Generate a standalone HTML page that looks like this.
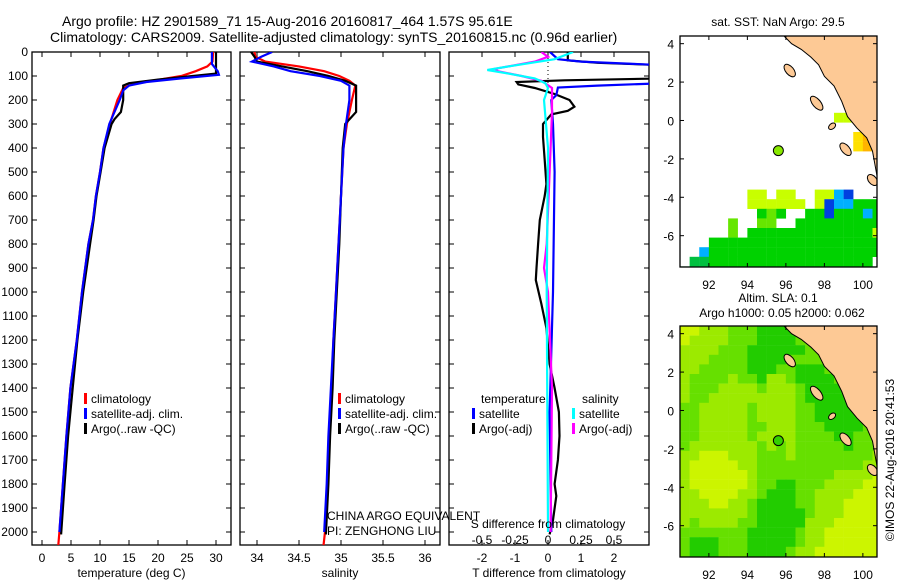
<!DOCTYPE html>
<html><head><meta charset="utf-8"><style>
html,body{margin:0;padding:0;background:#fff}
svg{display:block;font-family:"Liberation Sans",sans-serif}
</style></head><body>
<svg id="fig" width="900" height="580" viewBox="0 0 900 580" xmlns="http://www.w3.org/2000/svg">
<defs>
<clipPath id="c1"><rect x="32" y="52" width="199" height="493"/></clipPath>
<clipPath id="c2"><rect x="240" y="52" width="200" height="493"/></clipPath>
<clipPath id="c3"><rect x="449" y="52" width="200" height="493"/></clipPath>
<clipPath id="m1"><rect x="680" y="36" width="197" height="231"/></clipPath>
<clipPath id="m2"><rect x="680" y="326" width="197" height="231"/></clipPath>
</defs>
<text x="62" y="26" font-size="14">Argo profile: HZ 2901589_71 15-Aug-2016 20160817_464 1.57S 95.61E</text>
<text x="50" y="42" font-size="14">Climatology: CARS2009. Satellite-adjusted climatology: synTS_20160815.nc (0.96d earlier)</text>
<g id="g"></g>
</svg>
<script>
// ---- data ----
const tClimDepth=[0,40,60,80,100,120,135,150,200,300,400,500,600,700,800,1000,1200,1400,1600,1800,2000,2060];
const tClimVal=[29.5,29.4,28.5,26.5,24,19,15.5,14,13,11.7,10.6,10,9.3,8.8,8,6.9,6,4.9,4.2,3.6,3,2.8];
const tSatDepth=[0,50,80,95,110,125,140,160,200,300,400,500,600,700,800,1000,1200,1400,1600,1800,2000];
const tSatVal=[29.3,29.3,30.3,30.5,24,18,15,14,13.4,11.6,10.6,10,9.3,8.8,8,6.9,6,4.9,4.2,3.6,3];
const tArgoDepth=[0,90,100,115,130,140,200,250,280,300,400,500,600,700,800,1000,1200,1400,1600,1800,2010];
const tArgoVal=[30,30,26,20,15,14,14,13.6,12.5,12,10.8,10.1,9.4,8.9,8.3,7.1,6.1,5.3,4.5,3.9,3.3];
const sClimDepth=[0,20,40,60,80,100,120,140,200,300,400,600,800,1000,1200,1400,1600,1800,2000,2060];
const sClimVal=[33.97,33.98,34.1,34.5,34.8,34.98,35.1,35.17,35.13,35.07,35.03,35.0,34.97,34.94,34.91,34.89,34.86,34.84,34.81,34.79];
const sSatDepth=[0,20,40,60,80,100,120,140,200,300,400,600,800,1000,1200,1400,1600,1800,2000];
const sSatVal=[34.18,34.05,33.94,34.2,34.4,34.75,35.0,35.1,35.1,35.06,35.03,35.0,34.97,34.94,34.91,34.88,34.85,34.83,34.8];
const sArgoDepth=[0,20,40,60,80,100,120,140,250,300,400,600,800,1000,1200,1400,1600,1800,2010];
const sArgoVal=[33.93,33.97,34.0,34.3,34.6,34.85,35.05,35.18,35.18,35.05,35.02,35.0,34.98,34.95,34.92,34.9,34.87,34.85,34.82];
const dTSatDepth=[0,30,40,55,130,140,148,180,200,300,500,1000,1500,2000];
const dTSatVal=[0.06,0.3,1,3.5,3.5,1.5,0.3,0.25,0.1,0.15,0.2,0.15,0.05,0.1];
const dTArgoDepth=[0,35,45,55,110,118,125,135,150,175,200,228,245,260,300,354,450,550,600,700,800,900,950,1050,1150,1300,1400,1500,1600,1700,1800,1850,1950,2010];
const dTArgoVal=[0.6,0.6,1.5,3.5,3.5,0.5,-0.95,-0.9,-0.4,0.2,0.65,0.8,0.6,0.1,-0.15,-0.15,-0.1,-0.05,-0.1,-0.25,-0.3,-0.35,-0.37,-0.2,-0.05,0.05,0.2,0.33,0.35,0.3,0.2,0.25,0.15,0.05];
const dSSatDepth=[0,30,60,75,90,110,130,150,200,400,1000,2000];
const dSSatVal=[0.19,0.05,-0.3,-0.46,-0.3,-0.1,-0.02,0,-0.03,0,-0.01,0];
const dSArgoDepth=[0,20,40,70,80,100,120,150,250,400,800,900,1000,1400,2000];
const dSArgoVal=[-0.05,0,-0.1,-0.4,-0.38,-0.2,-0.05,0.03,0.03,0.02,-0.01,-0.03,0,0.03,0.02];
const depthTicks=[0,100,200,300,400,500,600,700,800,900,1000,1100,1200,1300,1400,1500,1600,1700,1800,1900,2000];
const tTicks=[0,5,10,15,20,25,30];
const sTicks=[34,34.5,35,35.5,36];
const dTTicks=[-2,-1,0,1,2];
const dSTicks=[-0.5,-0.25,0,0.25,0.5];
const lonTicks=[92,94,96,98,100];
const latTicks=[4,2,0,-2,-4,-6];
const argoLon=95.61, argoLat=-1.57;
// SLA grid (0.5 deg, from lon 90.5, lat 4.4 downward); 0=yellow..3=dark green
const slaRows=["001112223333222222222","011112223333222222222","111122233333322222222","111222233332222222222","112222233322333222222","122221223112333322222","122211112111233332222","122111111111233333222","221111121111223333322","221111121111223333322","221111122111222333322","221111121111222233222","211111112121222223222","110001112221222222221","100000112222222222211","100000012222222211110","100000012233222111100","110000112333221111000","111001123333221110000","111111123333321110000","121111223333311100000","222222233333211000000","233322233333211000000","233322233332110000000","333332233332110000000"];
// SST grid codes
const sstRows=[".....................",".....................",".....................",".....................",".....................",".....................",".....................",".....................","................yy...","...................o.","..................Yo.","..................Yo.",".....................",".....................",".....................",".....................",".......yy.yy..yybB...",".......yyyyyy.yBbbggg","........glg..ggBgggbg",".....l..ll..ggggggggg",".....l.gggggggggggggy","...gggggggggggggggggg","..bgggggggggggggggggg",".GGggggggggggggggggg.","GGGGGGGGGGGGGGGGGGGGG"];
const coastLon=[95.9,96.3,96.8,97.3,97.7,98.0,98.5,98.9,99.2,99.7,100.2,100.5,100.9,101,101];
const coastLat=[4.4,4.0,3.7,3.3,2.9,2.3,1.8,1.0,0.2,-0.4,-0.9,-1.6,-3.8,-3.8,4.4];
const islandLon=[96.2,97.6,99.1,100.5,98.4];
const islandLat=[2.6,0.9,-1.5,-3.1,-0.3];
const islandLen=[0.7,0.8,0.7,0.6,0.25];

// ---- helpers ----
const NS="http://www.w3.org/2000/svg", G=document.getElementById('g');
function mk(tag,at,parent){const e=document.createElementNS(NS,tag);for(const k in at)e.setAttribute(k,at[k]);(parent||G).appendChild(e);return e;}
function txt(x,y,s,anchor,size){const e=mk('text',{x:x,y:y,'font-size':size||12,'text-anchor':anchor||'start'});e.textContent=s;return e;}
const yD=d=>52+d*0.24;
const xT=v=>42+v*5.8;
const xS=v=>257+(v-34)*84;
const xDT=v=>548+v*33;
const xDS=v=>548+v*132;
function line(xs,ys,fx,col,clip,name,w){
  const pts=xs.map((v,i)=>fx(v).toFixed(1)+','+yD(ys[i]).toFixed(1)).join(' ');
  const e=mk('polyline',{points:pts,fill:'none',stroke:col,'stroke-width':w||2.2,'clip-path':'url(#'+clip+')'});
  
  
}
function panel(x0,x1,ticks,fx,labels,title,name,leftLabels){
  const r=mk('rect',{x:x0,y:52,width:x1-x0,height:493,fill:'none',stroke:'#000','stroke-width':1.3});
  
  
  ticks.forEach((t,i)=>{const x=fx(t);
    mk('line',{x1:x,x2:x,y1:52,y2:57,stroke:'#000'});mk('line',{x1:x,x2:x,y1:540,y2:545,stroke:'#000'});
    if(labels){const l=txt(x,562,labels[i],'middle');}
  });
  depthTicks.forEach(d=>{const y=yD(d);mk('line',{x1:x0,x2:x0+5,y1:y,y2:y,stroke:'#000'});mk('line',{x1:x1-5,x2:x1,y1:y,y2:y,stroke:'#000'});
    if(leftLabels){const l=txt(x0-4,y+4,String(d),'end');}});
  const tt=txt((x0+x1)/2,577,title,'middle');
  
  
}
function legend(x,y,col,label,name){
  const b=mk('rect',{x:x,y:y-10,width:3,height:11,fill:col});
  
  
  const t=txt(x+7,y,label);
  
  
}
// ---- panel 1 temperature ----
panel(32,231,tTicks,xT,tTicks.map(String),'temperature (deg C)','temperature-panel',true);
line(tClimVal,tClimDepth,xT,'#f00','c1','temperature-climatology-line');
line(tArgoVal,tArgoDepth,xT,'#000','c1','temperature-argo-line');
line(tSatVal,tSatDepth,xT,'#00f','c1','temperature-satellite-line');
legend(84,403,'#f00','climatology','legend-climatology');
legend(84,418,'#00f','satellite-adj. clim.','legend-satellite-adj');
legend(84,433,'#000','Argo(..raw -QC)','legend-argo');
// ---- panel 2 salinity ----
panel(240,440,sTicks,xS,sTicks.map(String),'salinity','salinity-panel',false);
line(sClimVal,sClimDepth,xS,'#f00','c2','salinity-climatology-line');
line(sArgoVal,sArgoDepth,xS,'#000','c2','salinity-argo-line');
line(sSatVal,sSatDepth,xS,'#00f','c2','salinity-satellite-line');
legend(338,403,'#f00','climatology','legend-climatology-2');
legend(338,418,'#00f','satellite-adj. clim.','legend-satellite-adj-2');
legend(338,433,'#000','Argo(..raw -QC)','legend-argo-2');
let t1=txt(327,520,'CHINA ARGO EQUIVALENT');
let t2=txt(327,535,'PI: ZENGHONG LIU');
// ---- panel 3 differences ----
panel(449,649,dTTicks,xDT,dTTicks.map(String),'T difference from climatology','difference-panel',false);
mk('line',{x1:548,x2:548,y1:54,y2:92,stroke:'#000','stroke-dasharray':'1,3'});
line(dTArgoVal,dTArgoDepth,xDT,'#000','c3','t-diff-argo-line');
line(dTSatVal,dTSatDepth,xDT,'#00f','c3','t-diff-satellite-line');
line(dSArgoVal,dSArgoDepth,xDS,'#f0f','c3','s-diff-argo-line');
line(dSSatVal,dSSatDepth,xDS,'#0ff','c3','s-diff-satellite-line');
dSTicks.forEach(v=>{const l=txt(xDS(v),544,String(v),'middle');});
let t3=txt(548,528,'S difference from climatology','middle');
let t4=txt(481,403,'temperature');
let t5=txt(582,403,'salinity');
legend(472,418,'#00f','satellite','legend-t-satellite');
legend(472,433,'#000','Argo(-adj)','legend-t-argo');
legend(572,418,'#0ff','satellite','legend-s-satellite');
legend(572,433,'#f0f','Argo(-adj)','legend-s-argo');
// ---- maps ----
const mx=lon=>680+(lon-90.5)*19.25;
function drawMap(top,clip,name){
  const my=lat=>top+(4.4-lat)*19.2;
  return {my:my,frame:()=>{
    const r=mk('rect',{x:680,y:top,width:197,height:231,fill:'none',stroke:'#000','stroke-width':1.3});
    
    
    lonTicks.forEach(l=>{const x=mx(l);mk('line',{x1:x,x2:x,y1:top,y2:top+4,stroke:'#000'});mk('line',{x1:x,x2:x,y1:top+227,y2:top+231,stroke:'#000'});
      const t=txt(x,top+253,String(l),'middle');});
    latTicks.forEach(l=>{const y=my(l);mk('line',{x1:680,x2:684,y1:y,y2:y,stroke:'#000'});mk('line',{x1:873,x2:877,y1:y,y2:y,stroke:'#000'});
      const t=txt(674,y+5,String(l),'end');});
  },land:()=>{
    const g=mk('g',{'clip-path':'url(#'+clip+')'});
    const p=mk('polygon',{points:coastLon.map((l,i)=>mx(l).toFixed(1)+','+my(coastLat[i]).toFixed(1)).join(' '),fill:'#fdc995',stroke:'#000','stroke-width':1},g);
    
    
    islandLon.forEach((l,i)=>{const e=mk('ellipse',{cx:mx(l),cy:my(islandLat[i]),rx:islandLen[i]*19.25*0.55,ry:4,transform:'rotate(50 '+mx(l)+' '+my(islandLat[i])+')',fill:'#fdc995',stroke:'#000'},g);
      
      });
  }};
}
const sstCol={y:'#c8ff00',l:'#66e600',g:'#00d200',G:'#00c040',b:'#00b0ff',B:'#0040e0',o:'#ffb400',Y:'#ffe000'};
const M1=drawMap(36,'m1','sst-map');
const g1=mk('g',{'clip-path':'url(#m1)'});
sstRows.forEach((row,r)=>{[...row].forEach((c,k)=>{if(c==='.')return;
  const e=mk('rect',{x:mx(90.5+k*0.5),y:M1.my(4.4-r*0.5),width:9.8,height:9.8,fill:sstCol[c]},g1);
  
  });});
M1.land();
let a1=mk('circle',{cx:mx(argoLon),cy:M1.my(argoLat),r:5,fill:'#88e800',stroke:'#000'});

M1.frame();
let t6=txt(778,26,'sat. SST: NaN Argo: 29.5','middle');
const slaCol=['#ccf500','#9cea00','#66e000','#22cc00'];
const M2=drawMap(326,'m2','sla-map');
const g2=mk('g',{'clip-path':'url(#m2)'});
slaRows.forEach((row,r)=>{[...row].forEach((c,k)=>{
  const e=mk('rect',{x:mx(90.5+k*0.5),y:M2.my(4.4-r*0.5),width:9.9,height:9.8,fill:slaCol[+c]},g2);
  
  });});
M2.land();
let a2=mk('circle',{cx:mx(argoLon),cy:M2.my(argoLat),r:5,fill:'#33d000',stroke:'#000'});

M2.frame();
let t7=txt(778,302,'Altim. SLA: 0.1','middle');
let t8=txt(782,317,'Argo h1000: 0.05 h2000: 0.062','middle');
let t9=txt(0,0,'©IMOS 22-Aug-2016 20:41:53','middle');t9.setAttribute('transform','translate(894,460) rotate(-90)');

</script>
</body></html>
